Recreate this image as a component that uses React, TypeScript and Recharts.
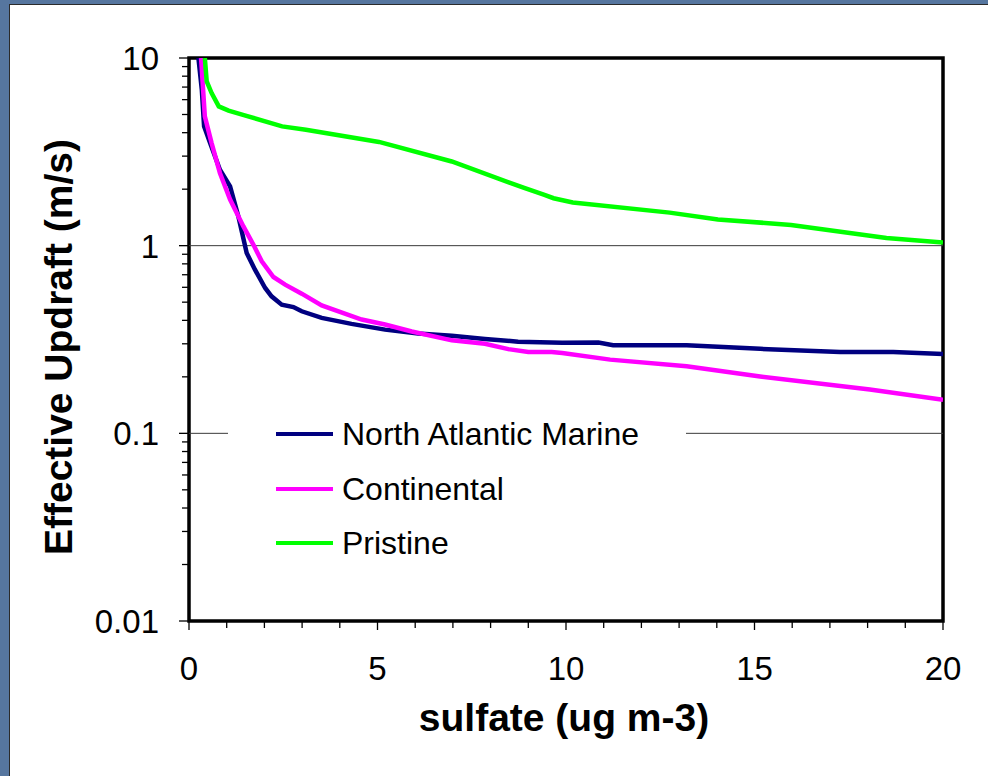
import React from 'react'
import { LineChart, Line, XAxis, YAxis, ReferenceLine, ReferenceArea, Label } from 'recharts'

// sulfate (ug m-3) vs effective updraft (m/s)
const marineX = [0.25, 0.34, 0.4, 0.56, 0.82, 1.09, 1.31, 1.53, 1.75, 2.02, 2.19, 2.46, 2.77, 2.99, 3.52, 4.31, 5.2, 6.08, 6.97, 7.85, 8.73, 9.9, 10.86, 11.25, 13.2, 15.15, 17.27, 18.68, 20]
const marineY = [10, 6.78, 4.32, 3.52, 2.54, 2.07, 1.43, 0.914, 0.745, 0.595, 0.537, 0.485, 0.471, 0.447, 0.412, 0.383, 0.357, 0.34, 0.331, 0.318, 0.308, 0.304, 0.305, 0.295, 0.295, 0.282, 0.271, 0.271, 0.265]

const continentalX = [0.32, 0.42, 0.6, 0.82, 1.09, 1.44, 1.71, 1.93, 2.24, 2.55, 2.99, 3.52, 4.58, 5.2, 5.91, 6.97, 7.85, 8.47, 9.0, 9.62, 9.9, 11.17, 13.2, 15.15, 18.06, 20]
const continentalY = [10, 4.89, 3.52, 2.44, 1.76, 1.27, 1.01, 0.825, 0.681, 0.62, 0.555, 0.48, 0.404, 0.38, 0.349, 0.313, 0.3, 0.281, 0.271, 0.271, 0.268, 0.247, 0.228, 0.201, 0.171, 0.151]

const pristineX = [0.42, 0.47, 0.6, 0.79, 1.05, 1.5, 2.47, 3.1, 5.04, 6.97, 8.89, 9.41, 9.67, 10.18, 12.75, 14.03, 15.97, 18.5, 20]
const pristineY = [10, 7.5, 6.5, 5.52, 5.24, 4.93, 4.32, 4.15, 3.57, 2.81, 2.03, 1.87, 1.79, 1.7, 1.5, 1.38, 1.29, 1.1, 1.04]

const xTicks = [0, 1, 2, 3, 4, 5, 6, 7, 8, 9, 10, 11, 12, 13, 14, 15, 16, 17, 18, 19, 20]
const xLabels = [0, 5, 10, 15, 20]
const yLabels = [0.01, 0.1, 1, 10]
const yMinor = [0.02, 0.03, 0.04, 0.05, 0.06, 0.07, 0.08, 0.09, 0.2, 0.3, 0.4, 0.5, 0.6, 0.7, 0.8, 0.9, 2, 3, 4, 5, 6, 7, 8, 9]
const gridValues = [1, 0.1]

const toPoints = (xs: number[], ys: number[]) => xs.map((x, i) => ({ x, y: ys[i] }))

const series = [
  { name: 'North Atlantic Marine', color: '#000080', data: toPoints(marineX, marineY) },
  { name: 'Continental', color: '#ff00ff', data: toPoints(continentalX, continentalY) },
  { name: 'Pristine', color: '#00ff00', data: toPoints(pristineX, pristineY) },
]

const W = 988
const H = 776
const PLOT_LEFT = 189
const PLOT_BOTTOM = 621
const FONT = '"Liberation Sans", Arial, sans-serif'

function YTick(props: any) {
  const { y, payload } = props
  const major = yLabels.includes(payload.value)
  return (
    <g>
      <line x1={PLOT_LEFT - (major ? 10 : 7)} x2={PLOT_LEFT} y1={y} y2={y} stroke="#000" strokeWidth={1.3} />
      {major && (
        <text x={159} y={y} dy="0.36em" textAnchor="end" fontSize={33} fontFamily={FONT} fill="#000">
          {String(payload.value)}
        </text>
      )}
    </g>
  )
}

function XTick(props: any) {
  const { x, payload } = props
  const major = xLabels.includes(payload.value)
  return (
    <g>
      <line x1={x} x2={x} y1={PLOT_BOTTOM} y2={PLOT_BOTTOM + (major ? 9 : 7)} stroke="#000" strokeWidth={1.3} />
      {major && (
        <text x={x} y={680} textAnchor="middle" fontSize={33} fontFamily={FONT} fill="#000">
          {String(payload.value)}
        </text>
      )}
    </g>
  )
}

export default function App() {
  return (
    <div style={{ position: 'fixed', left: 0, top: 0, width: W, height: H, background: '#56769f', overflow: 'hidden' }}>
      <div
        style={{
          position: 'absolute', left: 9, top: 4, width: W, height: H,
          background: '#fff', borderLeft: '1.5px solid #2b2b2b', borderTop: '1.5px solid #2b2b2b',
        }}
      />
      <div style={{ position: 'absolute', left: 0, top: 0 }}>
        <LineChart width={W} height={H} margin={{ top: 58, right: 45, bottom: 95, left: 109 }}>
          <XAxis
            type="number"
            dataKey="x"
            domain={[0, 20]}
            ticks={xTicks}
            interval={0}
            height={60}
            axisLine={false}
            tickLine={false}
            tick={<XTick />}
            allowDataOverflow
          >
            <Label
              content={() => (
                <text x={564} y={731} textAnchor="middle" fontSize={39} fontWeight="bold" fontFamily={FONT} fill="#000">
                  sulfate (ug m-3)
                </text>
              )}
            />
          </XAxis>
          <YAxis
            type="number"
            dataKey="y"
            scale="log"
            domain={[0.01, 10]}
            ticks={[...yLabels, ...yMinor]}
            interval={0}
            width={80}
            axisLine={false}
            tickLine={false}
            tick={<YTick />}
            allowDataOverflow
          >
            <Label
              content={() => (
                <text
                  x={58}
                  y={347}
                  transform="rotate(-90 58 347)"
                  textAnchor="middle"
                  dy="0.36em"
                  fontSize={39}
                  fontWeight="bold"
                  fontFamily={FONT}
                  fill="#000"
                >
                  Effective Updraft (m/s)
                </text>
              )}
            />
          </YAxis>
          {gridValues.map((v) => (
            <ReferenceLine key={v} y={v} stroke="#3a3a3a" strokeWidth={1} />
          ))}
          {series.map((s) => (
            <Line
              key={s.name}
              data={s.data}
              dataKey="y"
              name={s.name}
              type="linear"
              stroke={s.color}
              strokeWidth={4.5}
              dot={false}
              isAnimationActive={false}
            />
          ))}
          <ReferenceArea x1={0} x2={20} y1={0.01} y2={10} fill="none" stroke="#000" strokeWidth={3.5} />
        </LineChart>
      </div>
      <div
        style={{
          position: 'absolute', left: 228, top: 408, width: 458, height: 160,
          background: '#fff', fontFamily: FONT, fontSize: 32, color: '#000',
        }}
      >
        {series.map((s, i) => (
          <div key={s.name} style={{ position: 'absolute', left: 0, top: 26 + i * 54.5 - 20, height: 40, display: 'flex', alignItems: 'center' }}>
            <div style={{ marginLeft: 48, width: 57, height: 4, background: s.color }} />
            <span style={{ marginLeft: 9, lineHeight: '40px' }}>{s.name}</span>
          </div>
        ))}
      </div>
    </div>
  )
}
